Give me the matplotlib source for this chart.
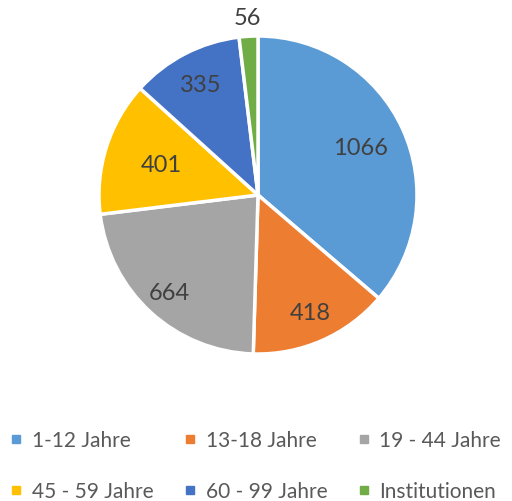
import matplotlib
matplotlib.use("Agg")
import matplotlib.pyplot as plt
from matplotlib.lines import Line2D
import numpy as np

categories = ["1-12 Jahre", "13-18 Jahre", "19 - 44 Jahre", "45 - 59 Jahre", "60 - 99 Jahre", "Institutionen"]
values = [1066, 418, 664, 401, 335, 56]
colors = ["#5B9BD5", "#ED7D31", "#A5A5A5", "#FFC000", "#4472C4", "#70AD47"]
label_radius = [0.71, 0.81, 0.83, 0.64, 0.78, 1.12]

plt.rcParams['font.family'] = ['Lato', 'DejaVu Sans']

fig = plt.figure(figsize=(5.12, 5.02), dpi=100)
R = 159
cx, cy = 258, 196
W, H = 512, 502
ax = fig.add_axes([(cx - R) / W, 1 - (cy + R) / H, 2 * R / W, 2 * R / H])
wedges, _ = ax.pie(values, colors=colors, startangle=90, counterclock=False,
                   wedgeprops=dict(edgecolor="white", linewidth=2.5), radius=1.0)
ax.set_xlim(-1, 1)
ax.set_ylim(-1, 1)
ax.set_aspect('equal')

for w, v, r in zip(wedges, values, label_radius):
    ang = np.deg2rad((w.theta1 + w.theta2) / 2)
    ax.text(r * np.cos(ang), r * np.sin(ang), str(v), ha='center', va='center',
            fontsize=17, color="#404040", clip_on=False)

handles = [Line2D([0], [0], marker='s', linestyle='', markersize=6,
                  markerfacecolor=c, markeredgecolor=c) for c in colors]
order = [0, 3, 1, 4, 2, 5]
fig.legend([handles[i] for i in order], [categories[i] for i in order],
           loc='lower center', bbox_to_anchor=(0.5, -0.037), ncol=3,
           frameon=False, fontsize=15, labelcolor="#595959",
           handlelength=0.5, handletextpad=0.5, columnspacing=1.5, labelspacing=1.46)

fig.savefig("out.png", dpi=100)
